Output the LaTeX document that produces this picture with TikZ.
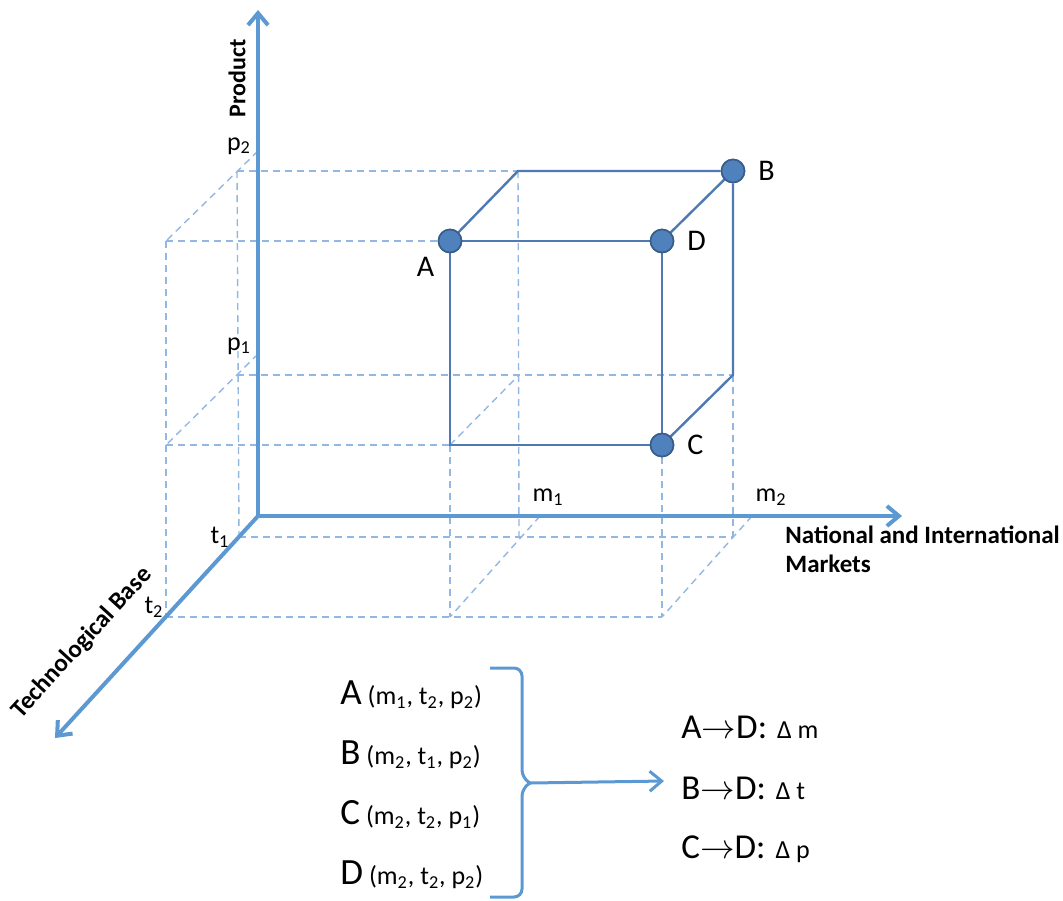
\documentclass[tikz,border=0pt]{standalone}
\usepackage{fontspec}
\setmainfont{Carlito}
\usetikzlibrary{positioning, arrows.meta}

\definecolor{axisblue}{RGB}{92,152,210}
\definecolor{cubeblue}{RGB}{79,121,178}
\definecolor{gridblue}{RGB}{146,183,226}
\definecolor{dotfill}{RGB}{79,129,189}
\definecolor{dotdraw}{RGB}{56,93,138}

\newcommand{\ptlabel}[4]{{\fontsize{18.5}{20}\selectfont #1} (m\textsubscript{#2}, t\textsubscript{#3}, p\textsubscript{#4})}
\newcommand{\movelabel}[3]{{\fontsize{17.5}{20}\selectfont #1$\rightarrow$#2:}\hspace{5pt}{\fontsize{13}{15}\selectfont #3}}

\begin{document}
\begin{tikzpicture}[
    x=0.5pt, y=-0.5pt,
    >={Straight Barb[length=6pt, width=10pt]},
    node distance=30pt,
    on grid,
    axis/.style={->, draw=axisblue, line width=2pt},
    cubeedge/.style={draw=cubeblue, line width=1.2pt},
    gridline/.style={draw=gridblue, line width=0.7pt, dash pattern=on 3.5pt off 2.5pt},
    corner/.style={circle, fill=dotfill, draw=dotdraw, line width=0.8pt,
        minimum size=11.5pt, inner sep=0pt},
    cornerlabel/.style={font=\fontsize{15}{17}\selectfont},
    ticklabel/.style={font=\fontsize{13}{15}\selectfont, inner sep=1pt},
    axistitle/.style={font=\bfseries\fontsize{12.5}{14.5}\selectfont, inner sep=1pt},
    listitem/.style={anchor=west, font=\fontsize{13}{16}\selectfont, inner sep=0pt},
    brace/.style={draw=axisblue, line width=1.5pt}
]
\useasboundingbox (0,0) rectangle (1063,900);

% axis points
\coordinate (O) at (258,516);
\coordinate (ytip) at (258,10);
\coordinate (xtip) at (902,516);
\coordinate (ztip) at (55,738);
\coordinate (t1) at (239,537);
\coordinate (t2) at (166,617);
\coordinate (ap2) at (258,151);
\coordinate (ap1) at (258,354);
\coordinate (am1) at (540,516);
\coordinate (am2) at (752,516);

% back plane (t1)
\coordinate (bp2) at (237,171);
\coordinate (bp1) at (237,375);
\coordinate (BTL) at (518,171);
\coordinate (bm1p1) at (519,375);
\coordinate (bm1p0) at (519,537);
\coordinate (BBR) at (733,375);
\coordinate (bm2p0) at (733,537);

% front plane (t2)
\coordinate (fp2) at (166,241);
\coordinate (fp1) at (166,445);
\coordinate (FBL) at (450,445);
\coordinate (fm1p0) at (450,617);
\coordinate (fm2p0) at (662,617);

% grid
\draw[gridline] (bp2) -- (BTL);
\draw[gridline] (bp1) -- (BBR);
\draw[gridline] (t1) -- (bm2p0);
\draw[gridline] (bp2) -- (t1);
\draw[gridline] (BTL) -- (bm1p0);
\draw[gridline] (BBR) -- (bm2p0);
\draw[gridline] (fp2) -- (450,241);
\draw[gridline] (fp1) -- (FBL);
\draw[gridline] (t2) -- (fm2p0);
\draw[gridline] (fp2) -- (t2);
\draw[gridline] (FBL) -- (fm1p0);
\draw[gridline] (662,445) -- (fm2p0);
\draw[gridline] (ap2) -- (fp2);
\draw[gridline] (ap1) -- (fp1);
\draw[gridline] (FBL) -- (bm1p1);
\draw[gridline] (am1) -- (fm1p0);
\draw[gridline] (am2) -- (fm2p0);

% axes
\draw[axis] (O) -- (ytip);
\draw[axis] (O) -- (xtip);
\draw[axis] (O) -- (ztip);

% corners
\node[corner, label={[cornerlabel, label distance=0pt]below left:A}] (A) at (450,241) {};
\node[corner, label={[cornerlabel, label distance=3pt]right:B}] (B) at (733,171) {};
\node[corner, label={[cornerlabel, label distance=3pt]right:C}] (C) at (662,445) {};
\node[corner, label={[cornerlabel, label distance=3pt]right:D}] (D) at (662,241) {};

% cube
\draw[cubeedge] (A) -- (D);
\draw[cubeedge] (A) -- (BTL) -- (B);
\draw[cubeedge] (B) -- (D);
\draw[cubeedge] (B) -- (BBR) -- (C);
\draw[cubeedge] (D) -- (C);
\draw[cubeedge] (A) -- (FBL) -- (C);
\node[corner] at (A) {};
\node[corner] at (B) {};
\node[corner] at (C) {};
\node[corner] at (D) {};

% axis labels
\node[ticklabel] (lp2) at (239,146) {p\textsubscript{2}};
\node[ticklabel] (lp1) at (239,346) {p\textsubscript{1}};
\node[ticklabel] (lm1) at (548,497) {m\textsubscript{1}};
\node[ticklabel] (lm2) at (771,497) {m\textsubscript{2}};
\node[ticklabel] (lt1) at (220,537) {t\textsubscript{1}};
\node[ticklabel] (lt2) at (154,607) {t\textsubscript{2}};
\node[axistitle, rotate=90, font=\bfseries\fontsize{12}{14}\selectfont] (ylab) at (237,78) {Product};
\node[axistitle, anchor=north west, align=left] (xlab) at (783,524)
    {National and International\\Markets};
\node[axistitle, rotate=47.6] (zlab) at (82,643) {Technological Base};

% point list
\node[listitem] (ptA) at (340,695) {\ptlabel{A}{1}{2}{2}};
\node[listitem, below=of ptA.west, anchor=west] (ptB) {\ptlabel{B}{2}{1}{2}};
\node[listitem, below=of ptB.west, anchor=west] (ptC) {\ptlabel{C}{2}{2}{1}};
\node[listitem, below=of ptC.west, anchor=west] (ptD) {\ptlabel{D}{2}{2}{2}};

% moves
\node[listitem] (mvA) at (681,727) {\movelabel{A}{D}{Δ m}};
\node[listitem, below=30.5pt of mvA.west, anchor=west] (mvB) {\movelabel{B}{D}{Δ t}};
\node[listitem, below=30.5pt of mvB.west, anchor=west] (mvC) {\movelabel{C}{D}{Δ p}};

% brace
\coordinate (brtop) at (490,668);
\coordinate (brbot) at (490,897);
\coordinate (brtip) at (530,783);
\draw[brace, rounded corners=4pt] (brtop) -- (522,668) -- (522,778) -- (brtip);
\draw[brace, rounded corners=4pt] (brbot) -- (522,897) -- (522,788) -- (brtip);
\draw[brace, ->] (brtip) -- (664,781);

\end{tikzpicture}
\end{document}
